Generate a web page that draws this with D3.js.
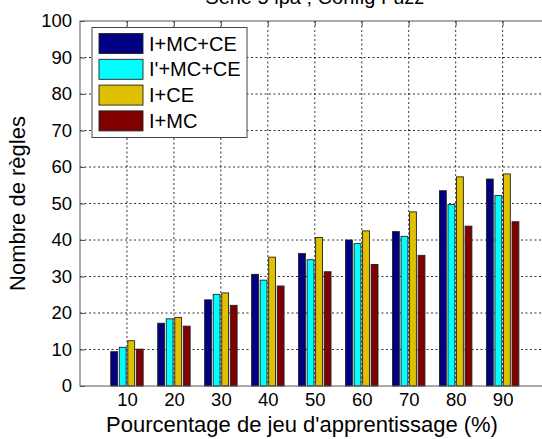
<!DOCTYPE html>
<html><head><meta charset="utf-8">
<script src="https://cdn.jsdelivr.net/npm/d3@7"></script>
<style>
html,body{margin:0;padding:0;background:#fff;}
svg text{font-family:"Liberation Sans",Arial,sans-serif;fill:#000;}
</style></head>
<body>
<script>
const categories = [10, 20, 30, 40, 50, 60, 70, 80, 90];
const seriesNames = ["I+MC+CE", "I'+MC+CE", "I+CE", "I+MC"];
const seriesColors = ["#000080", "#00ffff", "#e0c000", "#800000"];
const sIMCCE  = [9.4, 17.2, 23.6, 30.6, 36.3, 40.0, 42.3, 53.5, 56.7];
const sIpMCCE = [10.6, 18.4, 25.1, 29.0, 34.6, 39.0, 41.0, 49.7, 52.2];
const sICE    = [12.4, 18.8, 25.5, 35.3, 40.7, 42.5, 47.7, 57.3, 58.1];
const sIMC    = [10.1, 16.4, 22.1, 27.4, 31.3, 33.3, 35.8, 43.8, 45.0];
const yTicks = [0, 10, 20, 30, 40, 50, 60, 70, 80, 90, 100];
const titleText = "Série 5 ipa ; Config Fuzz";
const xLabel = "Pourcentage de jeu d'apprentissage (%)";
const yLabel = "Nombre de règles";
const series = [sIMCCE, sIpMCCE, sICE, sIMC];

const W = 542, H = 439;
const L = 80, R = 549.6, T = 21, B = 386;
const svg = d3.select("body").append("svg").attr("width", W).attr("height", H);

const x = d3.scaleLinear().domain([0, 100]).range([L, R]);
const y = d3.scaleLinear().domain([0, 100]).range([B, T]);

// grid
const grid = svg.append("g");
grid.selectAll("line.gy").data(yTicks.filter(d => d > 0 && d < 100)).join("line")
  .attr("x1", L).attr("x2", R).attr("y1", d => y(d)).attr("y2", d => y(d))
  .attr("stroke", "#000").attr("stroke-width", 1).attr("stroke-dasharray", "2,2.5").attr("opacity", 0.8);
grid.selectAll("line.gx").data(categories).join("line")
  .attr("x1", d => x(d)).attr("x2", d => x(d)).attr("y1", T).attr("y2", B)
  .attr("stroke", "#000").attr("stroke-width", 1).attr("stroke-dasharray", "2,2.5").attr("opacity", 0.8);

// bars (MATLAB grouped layout)
const n = series.length;
const step = 10;
const groupW = Math.min(0.8, n / (n + 1.5)) * step;
const slot = groupW / n;
const bw = slot * 0.8;
series.forEach((vals, j) => {
  svg.append("g").selectAll("rect").data(vals).join("rect")
    .attr("x", (v, i) => x(categories[i] + (j - (n - 1) / 2) * slot - bw / 2))
    .attr("width", x(bw) - x(0))
    .attr("y", v => y(v))
    .attr("height", v => y(0) - y(v))
    .attr("fill", seriesColors[j])
    .attr("stroke", "#222").attr("stroke-width", 0.9);
});

// axes box
const axG = svg.append("g");
axG.append("rect").attr("x", L).attr("y", T).attr("width", R - L).attr("height", B - T)
  .attr("fill", "none").attr("stroke", "#555").attr("stroke-width", 1);

const yAxis = d3.axisLeft(y).tickValues(yTicks).tickSizeInner(-5).tickSizeOuter(0).tickPadding(8);
const ya = svg.append("g").attr("transform", `translate(${L},0)`).call(yAxis);
ya.select(".domain").remove();
ya.selectAll(".tick line").attr("stroke", "#555");
ya.selectAll("text").style("font-size", "18.5px");

const xAxis = d3.axisBottom(x).tickValues(categories).tickSizeInner(-5).tickSizeOuter(0).tickPadding(7);
const xa = svg.append("g").attr("transform", `translate(0,${B})`).call(xAxis);
xa.select(".domain").remove();
xa.selectAll(".tick line").attr("stroke", "#555");
xa.selectAll("text").style("font-size", "18.5px");

const xTop = d3.axisTop(x).tickValues(categories).tickSizeInner(-5).tickSizeOuter(0).tickFormat("");
const xt = svg.append("g").attr("transform", `translate(0,${T})`).call(xTop);
xt.select(".domain").remove();
xt.selectAll(".tick line").attr("stroke", "#555");

// labels
svg.append("text").attr("x", 302).attr("y", 432).attr("text-anchor", "middle")
  .style("font-size", "22px").text(xLabel);
svg.append("text").attr("transform", `translate(25,${(T + B) / 2}) rotate(-90)`)
  .attr("text-anchor", "middle").style("font-size", "22px").text(yLabel);
svg.append("text").attr("x", (L + R) / 2).attr("y", 4).attr("text-anchor", "middle")
  .style("font-size", "20px").text(titleText);

// legend
const lg = svg.append("g");
lg.append("rect").attr("x", 92).attr("y", 27.5).attr("width", 155).attr("height", 110)
  .attr("fill", "#fff").attr("stroke", "#444").attr("stroke-width", 1);
seriesNames.forEach((name, i) => {
  const cy = 43.5 + i * 25.8;
  lg.append("rect").attr("x", 99).attr("y", cy - 10).attr("width", 44).attr("height", 20)
    .attr("fill", seriesColors[i]).attr("stroke", "#222").attr("stroke-width", 0.9);
  lg.append("text").attr("x", 149).attr("y", cy + 7).style("font-size", "20px").text(name);
});
</script>
</body></html>
